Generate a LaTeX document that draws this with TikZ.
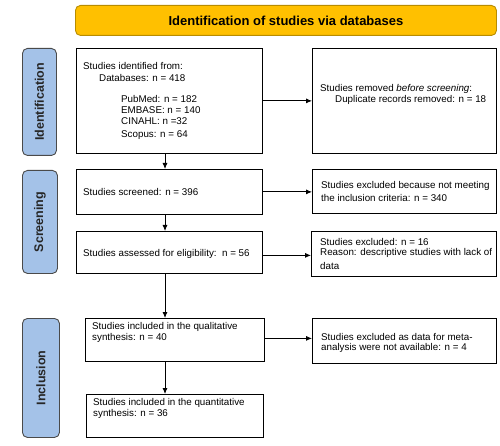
\documentclass[tikz,border=0pt]{standalone}
\usepackage{fontspec}
\setmainfont{Liberation Sans}
\usetikzlibrary{arrows.meta}
\definecolor{gold}{HTML}{FFC000}
\definecolor{goldline}{HTML}{B88C00}
\definecolor{sideblue}{HTML}{A4C2E8}
\definecolor{sideline}{HTML}{4A4A4A}
\begin{document}
\begin{tikzpicture}[x=1pt,y=-1pt,
  box/.style={draw=black, line width=0.8pt, fill=white, anchor=north west, inner sep=0pt},
  side/.style={draw=sideline, line width=0.9pt, fill=sideblue, rounded corners=5pt, anchor=north west, inner sep=0pt},
  sidetext/.style={font=\fontsize{12.5}{14}\selectfont\bfseries, rotate=90, text=black!85},
  txt/.style={anchor=west, inner sep=0pt, font=\fontsize{9.8}{11}\selectfont},
  arr/.style={line width=0.8pt, -{Latex[length=6pt,width=5pt]}}]
\useasboundingbox (0,0) rectangle (500,446);
% banner
\node[draw=goldline, line width=0.9pt, fill=gold, rounded corners=5pt, anchor=north west,
      minimum width=421pt, minimum height=30pt, font=\fontsize{13}{15}\selectfont\bfseries]
      (title) at (75,5) {Identification of studies via databases};
% side labels
\node[side, minimum width=34pt, minimum height=107pt] (sid) at (22,48) {};
\node[sidetext] at (sid.center) {Identification};
\node[side, minimum width=35pt, minimum height=103pt] (ssc) at (22,170) {};
\node[sidetext] at (ssc.center) {Screening};
\node[side, minimum width=37pt, minimum height=119pt] (sin) at (22,318) {};
\node[sidetext] at (sin.center) {Inclusion};
% boxes
\node[box, minimum width=186pt, minimum height=105pt] (b1) at (76,48) {};
\node[box, minimum width=184pt, minimum height=105pt] (r1) at (312,48) {};
\node[box, minimum width=186pt, minimum height=45pt] (b2) at (76,169) {};
\node[box, minimum width=184pt, minimum height=44pt] (r2) at (312,169) {};
\node[box, minimum width=186pt, minimum height=42pt] (b3) at (76,231) {};
\node[box, minimum width=185pt, minimum height=45pt] (r3) at (311,231) {};
\node[box, minimum width=179pt, minimum height=43pt] (b4) at (85,318) {};
\node[box, minimum width=184pt, minimum height=45pt] (r4) at (312,318) {};
\node[box, minimum width=177pt, minimum height=43pt] (b5) at (86,394) {};
% texts
\node[txt] (t1a) at (83,66) {Studies identified from:};
\node[txt] (t1b) at (99,78) {Databases: n = 418};
\node[txt] (t1c) at (121,99) {PubMed: n = 182};
\node[txt] (t1d) at (121,110) {EMBASE: n = 140};
\node[txt] (t1e) at (121,121) {CINAHL: n =32};
\node[txt] (t1f) at (121,135) {Scopus: n = 64};
\node[txt] (u1a) at (320,89) {Studies removed \textit{before screening}:};
\node[txt] (u1b) at (335,100) {Duplicate records removed: n = 18};
\node[txt] (t2) at (83,192) {Studies screened: n = 396};
\node[txt] (u2a) at (321,186) {Studies excluded because not meeting};
\node[txt] (u2b) at (321,198) {the inclusion criteria: n = 340};
\node[txt] (t3) at (83,254) {Studies assessed for eligibility:\ \ n = 56};
\node[txt] (u3a) at (320,242) {Studies excluded: n = 16};
\node[txt] (u3b) at (320,253) {Reason: descriptive studies with lack of};
\node[txt] (u3c) at (320,266) {data};
\node[txt] (t4a) at (92,327) {Studies included in the qualitative};
\node[txt] (t4b) at (92,338) {synthesis: n = 40};
\node[txt] (u4a) at (321,337) {Studies excluded as data for meta-};
\node[txt] (u4b) at (321,348) {analysis were not available: n = 4};
\node[txt] (t5a) at (93,403) {Studies included in the quantitative};
\node[txt] (t5b) at (93,414) {synthesis: n = 36};
% connectors
\coordinate (vx) at (165,0);
\draw[arr] (b1.south -| vx) -- (b2.north -| vx);
\draw[arr] (b2.south -| vx) -- (b3.north -| vx);
\draw[arr] (b3.south -| vx) -- (b4.north -| vx);
\draw[arr] (b4.south -| vx) -- (b5.north -| vx);
\draw[arr] (b1.east) -- (b1.east -| r1.west);
\draw[arr] (b2.east) -- (b2.east -| r2.west);
\draw[arr] ([yshift=-3pt]b3.east) -- ([yshift=-3pt]b3.east -| r3.west);
\draw[arr] ([yshift=1.5pt]b4.east) -- ([yshift=1.5pt]b4.east -| r4.west);
\end{tikzpicture}
\end{document}
